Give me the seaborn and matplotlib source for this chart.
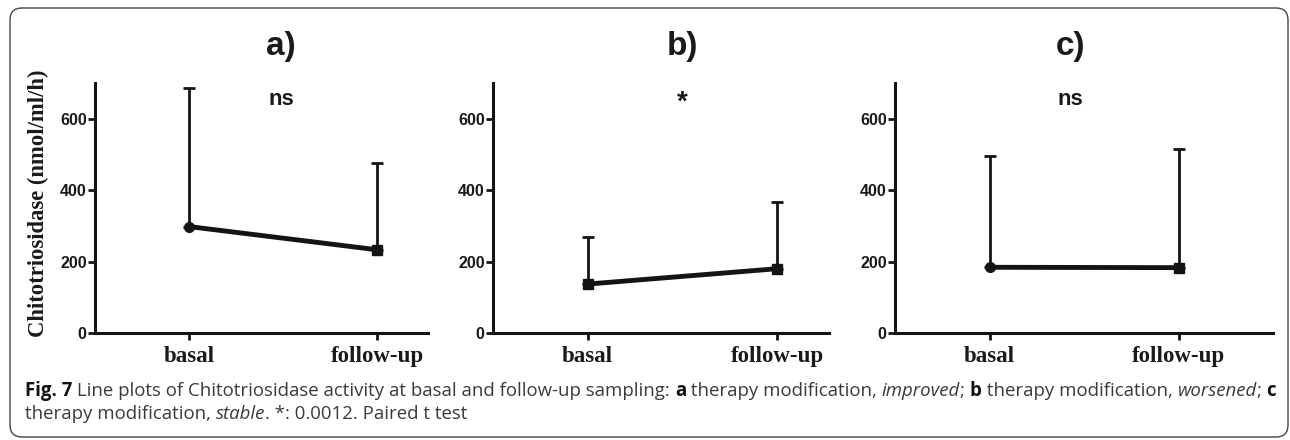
import matplotlib
matplotlib.use('Agg')
import matplotlib.pyplot as plt
import seaborn as sns
import pandas as pd
from matplotlib.patches import FancyBboxPatch

# data
times = ['basal', 'follow-up']
panels = ['a)', 'b)', 'c)']
means_a = [298, 233]
sd_a = [388, 243]
means_b = [137, 180]
sd_b = [133, 188]
means_c = [184, 183]
sd_c = [311, 333]
signif = ['ns', '*', 'ns']
first_marker = ['o', 's', 'o']

sns.set_style('ticks')
plt.rcParams['font.family'] = ['Liberation Sans', 'DejaVu Sans']

W, H = 1290, 440
fig = plt.figure(figsize=(W / 100, H / 100), dpi=100)

# axes boxes in pixels: left, right (top=y700 at 83px, y0 at 333px)
boxes = [(95, 428), (493, 829), (895, 1273)]
xlims = [(-0.5, 1.27), (-0.5, 1.275), (-0.5, 1.5)]
label_x = [0.49, 0.5, 0.43]
all_means = [means_a, means_b, means_c]
all_sd = [sd_a, sd_b, sd_c]

ink = '#141414'
for i in range(3):
    l, r = boxes[i]
    ax = fig.add_axes([l / W, 1 - 333 / H, (r - l) / W, 250 / H])
    df = pd.DataFrame({'x': [0, 1], 'y': all_means[i]})
    # upper error bars only
    ax.errorbar(df['x'], df['y'], yerr=[[0, 0], all_sd[i]], fmt='none',
                ecolor=ink, elinewidth=2.0, capsize=4, capthick=2.0, zorder=2)
    sns.lineplot(data=df, x='x', y='y', color=ink, linewidth=3.5, ax=ax, zorder=3)
    ax.plot(0, all_means[i][0], marker=first_marker[i], color=ink, ms=7, zorder=4)
    ax.plot(1, all_means[i][1], marker='s', color=ink, ms=7, zorder=4)

    ax.set_xlim(*xlims[i])
    ax.set_ylim(0, 700)
    ax.set_yticks([0, 200, 400, 600])
    ax.set_xticks([0, 1])
    ax.set_xticklabels(times, family=['Liberation Serif'], fontweight='bold',
                       fontsize=16.5, color='#1a1a1a')
    for t in ax.get_yticklabels():
        t.set_fontweight('bold')
        t.set_fontsize(11.5)
        t.set_color('#1a1a1a')
    ax.tick_params(axis='y', length=5, width=2.0, pad=1, color=ink)
    ax.tick_params(axis='x', length=5, width=2.0, pad=4, color=ink)
    sns.despine(ax=ax)
    for s in ['left', 'bottom']:
        ax.spines[s].set_linewidth(2.2)
        ax.spines[s].set_color(ink)
    ax.set_xlabel('')
    ax.set_ylabel('')
    ax.text(label_x[i], 801, panels[i], ha='center', va='center', fontsize=24,
            fontweight='bold', color='#1a1a1a', clip_on=False)
    ax.text(label_x[i], 645 if signif[i] == '*' else 655, signif[i], ha='center',
            va='center', fontsize=16 if signif[i] == 'ns' else 20,
            fontweight='bold', color='#1a1a1a')

fig.text(38 / W, 1 - 203 / H, 'Chitotriosidase (nmol/ml/h)', rotation=90,
         ha='center', va='center', family=['Liberation Serif'], fontweight='bold',
         fontsize=16.3, color='#1a1a1a')

# rounded frame
frame = FancyBboxPatch((0.1, 0.03), 12.78, 4.29, boxstyle='round,pad=0,rounding_size=0.12',
                       transform=fig.dpi_scale_trans, fill=False, lw=1.0,
                       edgecolor='#444444')
fig.patches.append(frame)

# caption with mixed styles
cap_font = ['Open Sans', 'DejaVu Sans']
cap_size = 13.4
gray = '#3a3a3a'
line1 = [('Fig. 7', 'bold', 'normal', '#111111'),
         (' Line plots of Chitotriosidase activity at basal and follow-up sampling: ', 'normal', 'normal', gray),
         ('a', 'bold', 'normal', '#111111'),
         (' therapy modification, ', 'normal', 'normal', gray),
         ('improved', 'normal', 'italic', gray),
         ('; ', 'normal', 'normal', gray),
         ('b', 'bold', 'normal', '#111111'),
         (' therapy modification, ', 'normal', 'normal', gray),
         ('worsened', 'normal', 'italic', gray),
         ('; ', 'normal', 'normal', gray),
         ('c', 'bold', 'normal', '#111111')]
line2 = [('therapy modification, ', 'normal', 'normal', gray),
         ('stable', 'normal', 'italic', gray),
         ('. *: 0.0012. Paired t test', 'normal', 'normal', gray)]
lines = [(line1, 396), (line2, 419)]

cap_texts = []
for line, ypix in lines:
    for txt, wt, st, col in line:
        cap_texts.append(fig.text(0, 1 - ypix / H, txt, ha='left', va='baseline',
                                  family=cap_font, fontweight=wt, fontstyle=st,
                                  fontsize=cap_size, color=col))

# lay out the caption pieces one after another
fig.canvas.draw()
renderer = fig.canvas.get_renderer()
idx = 0
for line, ypix in lines:
    x = 25
    for k in range(len(line)):
        t = cap_texts[idx]
        t.set_position((x / W, 1 - ypix / H))
        x += t.get_window_extent(renderer).width
        idx += 1

fig.savefig('out.png', dpi=100)
